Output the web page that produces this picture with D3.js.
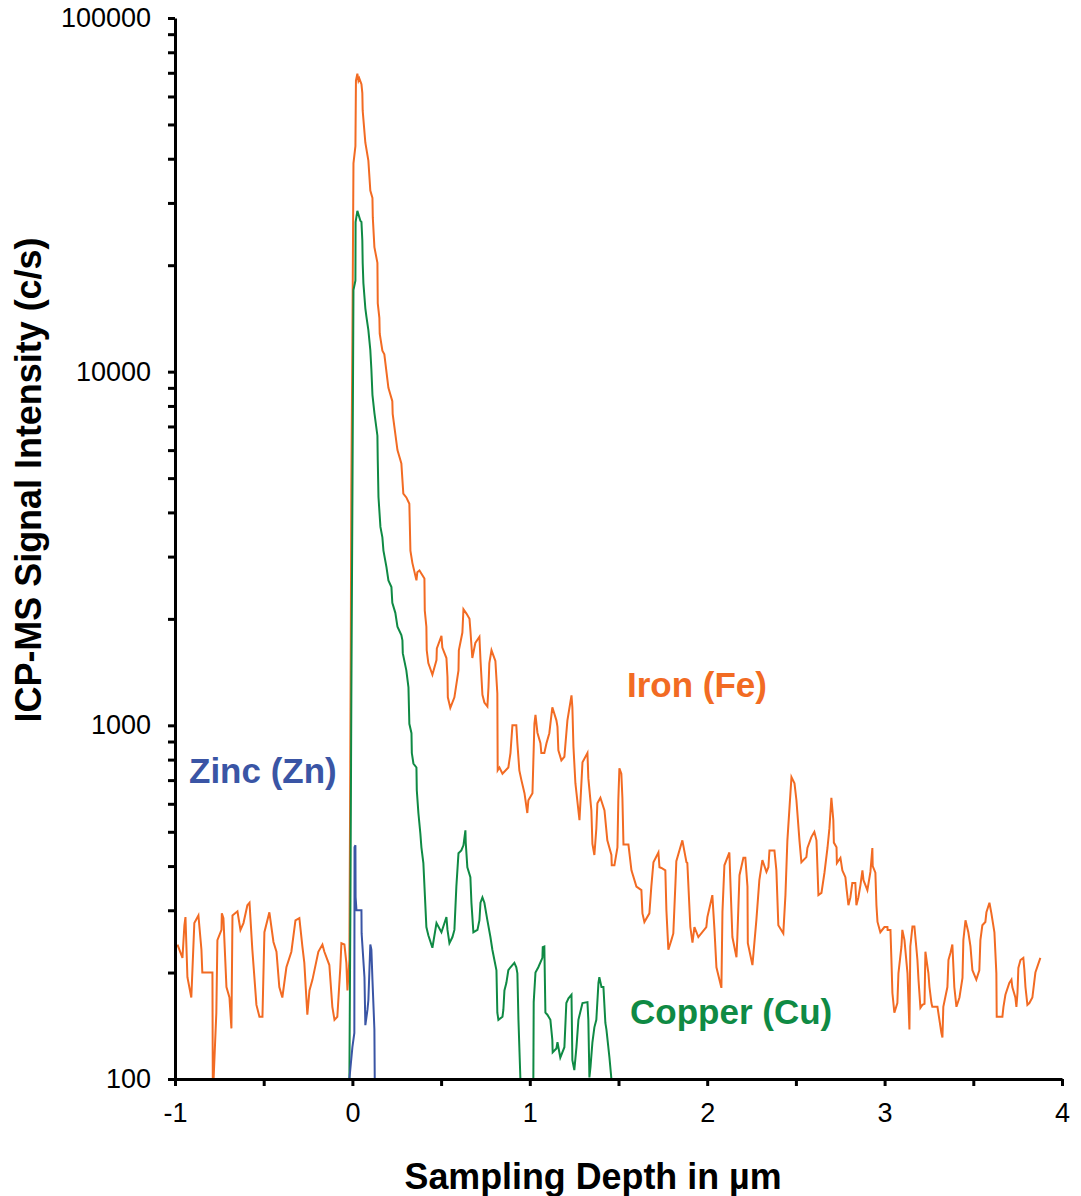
<!DOCTYPE html>
<meta charset="utf-8">
<head>
    <script src="https://d3js.org/d3.v7.min.js"></script>
    <style>
        body { margin: 0; background: #fff; }
        .tick text { font-family: "Liberation Sans", Arial, sans-serif; }
    </style>
</head>
<body>
<div id="chart"></div>

<script>

    // depth (µm) and ICP-MS signal (c/s)
    const feData = [[-0.986,240],[-0.958,220],[-0.947,272],[-0.941,287],[-0.930,194],[-0.908,170],[-0.891,276],[-0.868,290],[-0.851,232],[-0.846,200],[-0.789,200],[-0.787,101],[-0.782,101],[-0.767,154],[-0.761,247],[-0.738,264],[-0.736,294],[-0.727,285],[-0.710,182],[-0.693,170],[-0.682,139],[-0.676,290],[-0.648,298],[-0.631,264],[-0.614,276],[-0.592,310],[-0.580,315],[-0.564,232],[-0.541,162],[-0.524,150],[-0.507,150],[-0.496,260],[-0.468,296],[-0.445,244],[-0.428,229],[-0.412,182],[-0.395,170],[-0.372,207],[-0.344,229],[-0.321,281],[-0.299,285],[-0.282,237],[-0.271,213],[-0.254,152],[-0.242,178],[-0.225,191],[-0.192,229],[-0.169,240],[-0.158,229],[-0.130,210],[-0.113,160],[-0.101,147],[-0.085,150],[-0.068,207],[-0.062,242],[-0.045,240],[-0.034,213],[-0.028,178],[-0.017,217],[-0.013,600],[-0.009,1740],[-0.006,4700],[0.000,12240],[0.006,38800],[0.017,43400],[0.020,66500],[0.028,69600],[0.034,66500],[0.039,67500],[0.051,65000],[0.056,61300],[0.058,54700],[0.073,44400],[0.090,39500],[0.101,32500],[0.113,31000],[0.115,27300],[0.124,22500],[0.141,20300],[0.143,15600],[0.152,14200],[0.154,12800],[0.169,11470],[0.180,11200],[0.203,9000],[0.225,8250],[0.227,7600],[0.254,6000],[0.276,5500],[0.287,4520],[0.304,4410],[0.321,4230],[0.327,3120],[0.338,2880],[0.361,2570],[0.366,2710],[0.378,2740],[0.406,2600],[0.408,2110],[0.417,1900],[0.419,1630],[0.428,1500],[0.451,1390],[0.474,1530],[0.476,1650],[0.502,1790],[0.507,1660],[0.530,1550],[0.536,1370],[0.538,1200],[0.552,1120],[0.575,1200],[0.598,1430],[0.600,1630],[0.620,1830],[0.626,2130],[0.643,2070],[0.660,2000],[0.665,1860],[0.676,1550],[0.693,1710],[0.716,1780],[0.722,1530],[0.733,1220],[0.744,1160],[0.761,1130],[0.767,1280],[0.772,1500],[0.784,1630],[0.806,1520],[0.817,1230],[0.819,746],[0.829,760],[0.846,730],[0.879,760],[0.891,835],[0.902,1000],[0.924,1000],[0.930,890],[0.941,746],[0.953,699],[0.970,643],[0.986,565],[0.992,614],[1.015,643],[1.026,1010],[1.032,1070],[1.043,953],[1.060,890],[1.065,835],[1.082,835],[1.094,890],[1.110,950],[1.127,1125],[1.150,1033],[1.156,990],[1.161,850],[1.178,796],[1.195,815],[1.212,1033],[1.235,1215],[1.240,1125],[1.246,870],[1.257,686],[1.280,539],[1.297,786],[1.325,835],[1.330,709],[1.347,575],[1.353,462],[1.364,430],[1.375,510],[1.381,602],[1.398,624],[1.421,575],[1.437,473],[1.460,430],[1.462,402],[1.477,402],[1.494,452],[1.499,614],[1.505,756],[1.516,730],[1.522,624],[1.528,460],[1.556,460],[1.573,389],[1.601,350],[1.629,342],[1.635,294],[1.646,278],[1.674,294],[1.685,350],[1.697,410],[1.725,437],[1.731,397],[1.742,395],[1.764,389],[1.770,300],[1.781,232],[1.798,247],[1.809,258],[1.821,358],[1.826,413],[1.860,473],[1.883,410],[1.888,408],[1.905,269],[1.917,243],[1.928,269],[1.950,252],[1.995,269],[2.001,287],[2.029,331],[2.041,264],[2.052,207],[2.080,181],[2.086,297],[2.097,402],[2.125,437],[2.131,358],[2.142,252],[2.165,221],[2.170,252],[2.182,377],[2.204,422],[2.215,422],[2.227,350],[2.229,242],[2.255,210],[2.277,281],[2.294,365],[2.311,416],[2.334,385],[2.345,397],[2.351,443],[2.379,443],[2.390,389],[2.401,272],[2.429,258],[2.441,331],[2.452,473],[2.475,714],[2.492,686],[2.503,614],[2.520,473],[2.531,410],[2.559,424],[2.565,450],[2.587,483],[2.604,500],[2.616,473],[2.627,331],[2.644,336],[2.661,383],[2.678,450],[2.689,512],[2.700,624],[2.711,539],[2.714,466],[2.729,452],[2.731,408],[2.751,422],[2.762,389],[2.779,372],[2.785,347],[2.796,310],[2.807,326],[2.818,358],[2.835,358],[2.841,310],[2.852,326],[2.864,354],[2.875,389],[2.881,365],[2.903,342],[2.920,385],[2.931,450],[2.933,400],[2.948,383],[2.954,310],[2.960,278],[2.976,260],[2.999,269],[3.016,269],[3.017,264],[3.033,264],[3.038,221],[3.044,175],[3.055,154],[3.072,164],[3.078,199],[3.095,237],[3.100,264],[3.112,247],[3.129,199],[3.140,138],[3.145,237],[3.157,270],[3.168,270],[3.179,235],[3.185,217],[3.191,191],[3.202,159],[3.213,162],[3.225,163],[3.230,229],[3.247,199],[3.253,182],[3.264,164],[3.269,160],[3.298,160],[3.320,135],[3.326,131],[3.331,160],[3.354,182],[3.360,217],[3.371,227],[3.382,240],[3.393,182],[3.405,160],[3.422,170],[3.439,193],[3.444,247],[3.456,281],[3.472,260],[3.484,237],[3.495,203],[3.517,191],[3.534,203],[3.540,247],[3.551,272],[3.568,278],[3.574,296],[3.591,315],[3.602,294],[3.619,260],[3.630,199],[3.632,150],[3.664,150],[3.670,160],[3.681,173],[3.703,187],[3.715,191],[3.720,182],[3.737,170],[3.743,160],[3.749,175],[3.754,206],[3.766,217],[3.782,220],[3.788,203],[3.794,182],[3.805,162],[3.816,164],[3.833,170],[3.850,200],[3.878,220]]

    const cuData = [[-0.017,100],[-0.011,320],[-0.006,1180],[0.000,4320],[0.006,17000],[0.017,18100],[0.018,26500],[0.028,28500],[0.045,26700],[0.051,26500],[0.056,23500],[0.058,20300],[0.062,17800],[0.073,15100],[0.079,14300],[0.090,13100],[0.101,11500],[0.107,10140],[0.113,8600],[0.124,7650],[0.141,6590],[0.143,5610],[0.147,4420],[0.158,3640],[0.169,3400],[0.175,3120],[0.192,2800],[0.203,2570],[0.220,2460],[0.225,2220],[0.242,2080],[0.254,1900],[0.276,1800],[0.282,1740],[0.284,1600],[0.304,1430],[0.316,1280],[0.321,1010],[0.333,950],[0.335,835],[0.344,780],[0.361,760],[0.363,655],[0.372,565],[0.383,495],[0.389,452],[0.400,408],[0.417,269],[0.428,255],[0.451,235],[0.474,276],[0.502,260],[0.530,287],[0.536,264],[0.547,242],[0.564,252],[0.575,264],[0.586,350],[0.598,435],[0.614,443],[0.626,458],[0.637,505],[0.639,465],[0.648,397],[0.665,372],[0.671,315],[0.682,260],[0.705,264],[0.716,281],[0.722,315],[0.733,326],[0.744,315],[0.761,281],[0.778,252],[0.789,232],[0.812,203],[0.817,154],[0.823,147],[0.846,150],[0.851,157],[0.857,178],[0.868,187],[0.879,203],[0.891,207],[0.913,213],[0.924,207],[0.930,199],[0.936,147],[0.947,100],[1.020,100],[1.022,165],[1.032,200],[1.048,207],[1.071,220],[1.073,236],[1.082,237],[1.088,154],[1.099,152],[1.116,147],[1.127,129],[1.129,119],[1.150,122],[1.156,127],[1.172,115],[1.195,123],[1.206,164],[1.218,169],[1.235,173],[1.240,113],[1.251,106],[1.263,123],[1.274,147],[1.297,164],[1.325,165],[1.330,147],[1.336,101],[1.342,108],[1.353,127],[1.364,140],[1.375,147],[1.387,187],[1.392,194],[1.404,182],[1.415,182],[1.426,144],[1.432,138],[1.449,115],[1.460,100]]

    const znData = [[-0.017,100],[0.000,123],[0.011,135],[0.012,452],[0.017,458],[0.018,327],[0.023,300],[0.051,300],[0.052,258],[0.068,194],[0.073,142],[0.085,157],[0.090,167],[0.101,240],[0.107,232],[0.113,191],[0.124,138],[0.126,100]]

    const seriesNames = ["Iron (Fe)", "Copper (Cu)", "Zinc (Zn)"]
    const seriesColors = ["#f26b23", "#0f8a44", "#3a55a5"]

    const xTicks = [-1, -0.5, 0, 0.5, 1, 1.5, 2, 2.5, 3, 3.5, 4]
    const yMajor = [100, 1000, 10000, 100000]
    const yMinor = [2, 3, 4, 5, 6, 7, 8, 9]

    const width = 1081
    const height = 1196

    const svg = d3.select("#chart").append("svg")
        .attr("width", width)
        .attr("height", height)

    const x = d3.scaleLinear()
        .domain([-1, 4])
        .range([175, 1062])

    const y = d3.scaleLog()
        .domain([100, 100000])
        .range([1079, 18])

    const line = d3.line()
        .x(d => x(d[0]))
        .y(d => y(d[1]))

    const series = [feData, cuData, znData]
    series.forEach((data, i) => {
        svg.append("path")
            .datum(data)
            .attr("fill", "none")
            .attr("stroke", seriesColors[i])
            .attr("stroke-width", 2)
            .attr("stroke-linejoin", "miter")
            .attr("d", line)
    })

    // y axis: decades labelled, 2..9 as unlabelled ticks
    let yTicks = []
    yMajor.forEach(m => {
        yTicks.push(m)
        if (m < 100000) yMinor.forEach(k => yTicks.push(m * k))
    })

    const leftAxis = d3.axisLeft(y)
        .tickValues(yTicks)
        .tickSize(7)
        .tickSizeOuter(0)
        .tickPadding(17)
        .tickFormat(d => yMajor.includes(d) ? String(d) : "")

    const gy = svg.append("g")
        .attr("transform", `translate(${x(-1)}, 0)`)
        .call(leftAxis)

    const bottomAxis = d3.axisBottom(x)
        .tickValues(xTicks)
        .tickSize(7)
        .tickSizeOuter(0)
        .tickPadding(17)
        .tickFormat(d => Number.isInteger(d) ? String(d) : "")

    const gx = svg.append("g")
        .attr("transform", `translate(0, ${y(100)})`)
        .call(bottomAxis)

    svg.selectAll(".domain")
        .attr("stroke", "#000")
        .attr("stroke-width", 3)
    svg.selectAll(".tick line")
        .attr("stroke", "#000")
        .attr("stroke-width", 3)
    svg.selectAll(".tick text")
        .attr("fill", "#000")
        .style("font-size", "27px")

    // axis titles
    svg.append("text")
        .attr("x", 593)
        .attr("y", 1189)
        .attr("text-anchor", "middle")
        .attr("textLength", 377)
        .attr("lengthAdjust", "spacingAndGlyphs")
        .style("font-family", "'Liberation Sans', Arial, sans-serif")
        .style("font-weight", "bold")
        .style("font-size", "36px")
        .text("Sampling Depth in µm")

    svg.append("text")
        .attr("transform", "translate(41, 480) rotate(-90)")
        .attr("text-anchor", "middle")
        .attr("textLength", 485)
        .attr("lengthAdjust", "spacingAndGlyphs")
        .style("font-family", "'Liberation Sans', Arial, sans-serif")
        .style("font-weight", "bold")
        .style("font-size", "36px")
        .text("ICP-MS Signal Intensity (c/s)")

    // series labels placed next to their traces
    const labelPos = [[627, 697], [630, 1024], [189, 783]]
    seriesNames.forEach((name, i) => {
        svg.append("text")
            .attr("x", labelPos[i][0])
            .attr("y", labelPos[i][1])
            .attr("fill", seriesColors[i])
            .style("font-family", "'Liberation Sans', Arial, sans-serif")
            .style("font-weight", "bold")
            .style("font-size", "35px")
            .text(name)
    })

</script>
</body>
